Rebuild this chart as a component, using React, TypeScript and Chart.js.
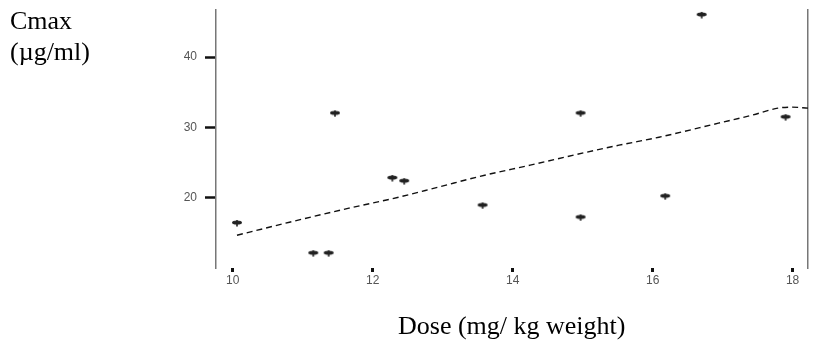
import React, { useEffect, useRef } from "react";
import { Chart, registerables } from "chart.js";

Chart.register(...registerables);

const doseValues = [10.06, 11.15, 11.37, 11.46, 12.28, 12.45, 13.57, 14.97, 14.97, 16.18, 16.7, 17.9];
const cmaxValues = [16.4, 12.1, 12.1, 32.0, 22.8, 22.35, 18.9, 17.2, 32.0, 20.2, 46.0, 31.45];

const trendDose = [10.06, 10.81, 11.66, 12.37, 12.93, 13.6, 14.25, 15.06, 15.52, 16.09, 16.94, 17.42, 17.79, 17.99, 18.22];
const trendCmax = [14.66, 16.51, 18.51, 20.07, 21.49, 23.2, 24.63, 26.48, 27.47, 28.6, 30.6, 31.74, 32.74, 32.88, 32.74];

const xTickValues = [10, 12, 14, 16, 18];
const yTickValues = [20, 30, 40];

const yTitleLines = ["Cmax", "(\u00b5g/ml)"];
const xTitle = "Dose (mg/ kg weight)";

function makeMarker(): HTMLCanvasElement {
  const c = document.createElement("canvas");
  c.width = 12;
  c.height = 8;
  const ctx = c.getContext("2d")!;
  ctx.fillStyle = "#222";
  ctx.beginPath();
  ctx.ellipse(6, 3.5, 5, 2, 0, 0, Math.PI * 2);
  ctx.fill();
  ctx.fillRect(5.2, 1, 1.6, 6.5);
  return c;
}

const noPad = (axis: any) => {
  axis.paddingTop = 0;
  axis.paddingBottom = 0;
  axis.paddingLeft = 0;
  axis.paddingRight = 0;
};

export default function App() {
  const ref = useRef<HTMLCanvasElement | null>(null);

  useEffect(() => {
    if (!ref.current) return;
    const marker = makeMarker();
    const chart = new Chart(ref.current, {
      type: "scatter",
      data: {
        datasets: [
          {
            label: "Cmax",
            data: doseValues.map((x, i) => ({ x, y: cmaxValues[i] })),
            pointStyle: marker as any,
            pointRadius: 5,
            showLine: false,
          },
          {
            label: "trend",
            type: "line",
            data: trendDose.map((x, i) => ({ x, y: trendCmax[i] })),
            borderColor: "#111",
            borderWidth: 1.4,
            borderDash: [6, 4],
            pointRadius: 0,
            tension: 0.3,
            cubicInterpolationMode: "monotone",
            fill: false,
          } as any,
        ],
      },
      options: {
        animation: false,
        responsive: false,
        layout: { padding: { left: 0, right: 0, top: 10, bottom: 0 } },
        plugins: { legend: { display: false }, tooltip: { enabled: false } },
        scales: {
          x: {
            type: "linear",
            min: 9.76,
            max: 18.22,
            afterBuildTicks: (axis: any) => {
              axis.ticks = xTickValues.map((v) => ({ value: v }));
            },
            afterFit: (axis: any) => {
              axis.height = 74;
              noPad(axis);
            },
            border: { display: false },
            grid: {
              drawOnChartArea: false,
              drawTicks: true,
              tickLength: 4,
              tickWidth: 3,
              tickColor: "#111",
            },
            ticks: {
              color: "#555",
              font: { family: "Liberation Sans", size: 12 },
              padding: 1,
              callback: (v: any) => String(v),
            },
          },
          y: {
            type: "linear",
            min: 10,
            max: 46.7,
            afterBuildTicks: (axis: any) => {
              axis.ticks = yTickValues.map((v) => ({ value: v }));
            },
            afterFit: (axis: any) => {
              axis.width = 216;
              noPad(axis);
            },
            border: { display: true, color: "#777", width: 1.5 },
            grid: {
              drawOnChartArea: false,
              drawTicks: true,
              tickLength: 11,
              tickWidth: 2.5,
              tickColor: "#111",
            },
            ticks: {
              color: "#555",
              font: { family: "Liberation Sans", size: 12 },
              padding: 8,
              callback: (v: any) => String(v),
            },
          },
          y2: {
            type: "linear",
            position: "right",
            min: 10,
            max: 46.7,
            afterFit: (axis: any) => {
              axis.width = 1;
              noPad(axis);
            },
            border: { display: true, color: "#777", width: 1.5 },
            grid: { drawOnChartArea: false, drawTicks: false },
            ticks: { display: false },
          },
        },
      } as any,
    });
    return () => chart.destroy();
  }, []);

  const serif = '"Liberation Serif", "Times New Roman", serif';
  return (
    <div style={{ position: "fixed", left: 0, top: 0, width: 814, height: 342, background: "#fff" }}>
      <canvas ref={ref} width={814} height={342} style={{ position: "absolute", left: 0, top: 0 }} />
      {yTitleLines.map((t, i) => (
        <div
          key={t}
          style={{
            position: "absolute",
            left: 10,
            top: 5 + i * 31,
            fontFamily: serif,
            fontSize: 26,
            lineHeight: "31px",
            color: "#000",
            whiteSpace: "nowrap",
          }}
        >
          {t}
        </div>
      ))}
      <div
        style={{
          position: "absolute",
          left: 398,
          top: 310,
          fontFamily: serif,
          fontSize: 26,
          lineHeight: "31px",
          color: "#000",
          whiteSpace: "nowrap",
        }}
      >
        {xTitle}
      </div>
    </div>
  );
}
